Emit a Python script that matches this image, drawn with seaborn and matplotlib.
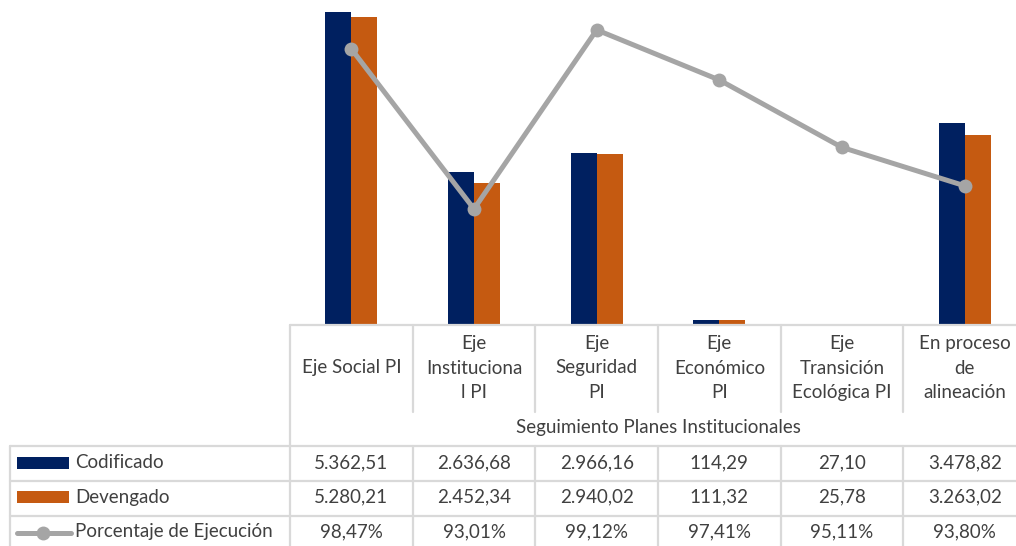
import numpy as np
import pandas as pd
import matplotlib
matplotlib.use("Agg")
import matplotlib.pyplot as plt
from matplotlib.lines import Line2D
from matplotlib.patches import Rectangle
import seaborn as sns

categories = ["Eje Social PI", "Eje Institucional PI", "Eje Seguridad PI",
              "Eje Económico PI", "Eje Transición Ecológica PI", "En proceso de alineación"]
cat_labels = ["Eje Social PI", "Eje\nInstituciona\nl PI", "Eje\nSeguridad\nPI",
              "Eje\nEconómico\nPI", "Eje\nTransición\nEcológica PI", "En proceso\nde\nalineación"]
codificado = [5362.51, 2636.68, 2966.16, 114.29, 27.10, 3478.82]
devengado = [5280.21, 2452.34, 2940.02, 111.32, 25.78, 3263.02]
porcentaje = [98.47, 93.01, 99.12, 97.41, 95.11, 93.80]
series_names = ["Codificado", "Devengado", "Porcentaje de Ejecución"]
group_title = "Seguimiento Planes Institucionales"

NAVY = "#002060"
ORANGE = "#C55A11"
GRAY = "#A5A5A5"
BORDER = "#D9D9D9"
TXT = "#404040"

sns.set_theme(style="white")
plt.rcParams["font.family"] = ["Lato", "DejaVu Sans"]

W, H = 1016, 546
fig = plt.figure(figsize=(W / 100, H / 100), dpi=100)

def fx(x):
    return x / W

def fy(y):
    return 1 - y / H

x0, x1 = 290, 1026
ytop, ybase = 0, 325
axbase = 327
colw = (x1 - x0) / 6

ax = fig.add_axes([fx(x0), fy(axbase), fx(x1) - fx(x0), fy(ytop) - fy(axbase)])
df = pd.DataFrame({
    "cat": categories * 2,
    "serie": ["Codificado"] * 6 + ["Devengado"] * 6,
    "val": codificado + devengado,
})
sns.barplot(data=df, x="cat", y="val", hue="serie", palette=[NAVY, ORANGE],
            width=0.424, gap=0, ax=ax, legend=False, linewidth=0, saturation=1)
ax.set_xlim(-0.5, 5.5)
ax.set_ylim(0, 5362.51 * axbase / (axbase - 12))
ax.axis("off")

ax2 = fig.add_axes([fx(x0), fy(ybase), fx(x1) - fx(x0), fy(ytop) - fy(ybase)])
sns.lineplot(x=np.arange(6), y=porcentaje, ax=ax2, color=GRAY, lw=3.6,
             marker="o", markersize=10, markeredgewidth=0)
ax2.set_xlim(-0.5, 5.5)
ax2.set_ylim(89.05, 100.14)
ax2.axis("off")
ax2.patch.set_alpha(0)

def hline(y, xa, xb):
    fig.add_artist(Line2D([fx(xa), fx(xb)], [fy(y), fy(y)], color=BORDER, lw=1.6))

def vline(x, ya, yb):
    fig.add_artist(Line2D([fx(x), fx(x)], [fy(ya), fy(yb)], color=BORDER, lw=1.6))

def txt(x, y, s, ha="center", **kw):
    fig.text(fx(x), fy(y), s, ha=ha, va="center", color=TXT, fontsize=13.5, **kw)

# table structure
fig.add_artist(Rectangle((fx(x0), fy(axbase)), fx(1016) - fx(x0), fy(ybase) - fy(axbase),
                         color="white", lw=0))
hline(ybase, x0, 1016)
vline(x0, ybase, 546)
for i in range(1, 6):
    vline(x0 + i * colw, ybase, 412)
row_lines = [446, 481, 516]
for y in row_lines:
    hline(y, 10, 1016)
vline(10, 446, 546)
for i in range(1, 6):
    vline(x0 + i * colw, 446, 546)

# header labels
for i, lab in enumerate(cat_labels):
    txt(x0 + (i + 0.5) * colw, 368, lab, linespacing=1.55)
txt(x0 + 3 * colw, 428, group_title)

# data rows
row_y = [463, 497, 532]

def fmt_num(v):
    s = f"{v:,.2f}"
    return s.replace(",", "X").replace(".", ",").replace("X", ".")

rows = [[fmt_num(v) for v in codificado],
        [fmt_num(v) for v in devengado],
        [fmt_num(v) + "%" for v in porcentaje]]
for r, vals in enumerate(rows):
    for i, s in enumerate(vals):
        txt(x0 + (i + 0.5) * colw, row_y[r], s)

# legend keys
fig.add_artist(Rectangle((fx(17), fy(469)), fx(69) - fx(17), fy(457) - fy(469),
                         color=NAVY, lw=0))
fig.add_artist(Rectangle((fx(17), fy(503)), fx(69) - fx(17), fy(491) - fy(503),
                         color=ORANGE, lw=0))
fig.add_artist(Line2D([fx(17), fx(71)], [fy(533), fy(533)], color=GRAY, lw=3.6))
fig.add_artist(Line2D([fx(43)], [fy(533)], color=GRAY, marker="o", markersize=10,
                      markeredgewidth=0))
for r, name in enumerate(series_names):
    txt(75, row_y[r], name, ha="left")

fig.savefig("out.png", dpi=100)
